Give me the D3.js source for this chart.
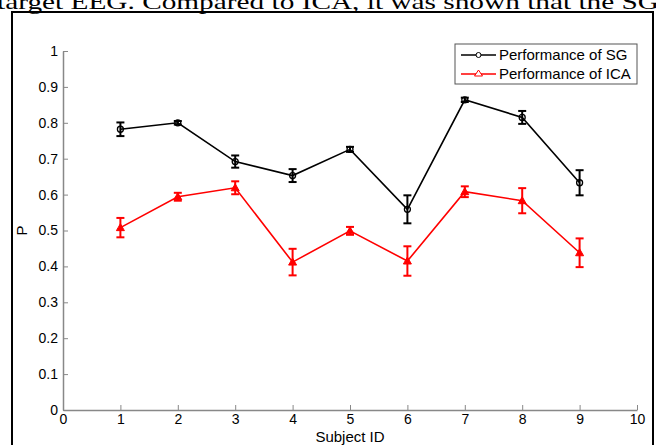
<!DOCTYPE html>
<html>
<head>
<meta charset="utf-8">
<script src="https://cdn.jsdelivr.net/npm/d3@7"></script>
<style>
  body { margin: 0; background: #fff; }
  svg { display: block; }
  .tick text { font-family: "Liberation Sans", Arial, sans-serif; font-size: 14px; fill: #000; }
</style>
</head>
<body>
<div id="chart"></div>
<script>
// values
var subjects = [1, 2, 3, 4, 5, 6, 7, 8, 9];
var sgMean  = [0.782, 0.800, 0.692, 0.653, 0.726, 0.559, 0.864, 0.815, 0.633];
var sgErr   = [0.019, 0.005, 0.017, 0.018, 0.007, 0.039, 0.006, 0.018, 0.035];
var icaMean = [0.508, 0.594, 0.619, 0.412, 0.499, 0.415, 0.608, 0.583, 0.438];
var icaErr  = [0.027, 0.011, 0.018, 0.037, 0.011, 0.041, 0.015, 0.035, 0.040];
var xTicks = [0, 1, 2, 3, 4, 5, 6, 7, 8, 9, 10];
var yTicks = [0, 0.1, 0.2, 0.3, 0.4, 0.5, 0.6, 0.7, 0.8, 0.9, 1];
var seriesNames = ["Performance of SG", "Performance of ICA"];

var W = 656, H = 445;
var svg = d3.select("#chart").append("svg").attr("width", W).attr("height", H);

// clipped line of paper text above the figure
svg.append("text")
  .attr("x", -3).attr("y", 9)
  .attr("textLength", 662).attr("lengthAdjust", "spacingAndGlyphs")
  .style("font-family", "'Liberation Serif', 'Times New Roman', serif")
  .style("font-size", "22px")
  .text("target EEG. Compared to ICA, it was shown that the SG");

// figure frame
svg.append("rect")
  .attr("x", 12).attr("y", 12).attr("width", 641).attr("height", 450)
  .attr("fill", "none").attr("stroke", "#000").attr("stroke-width", 2);

var x = d3.scaleLinear().domain([0, 10]).range([63, 637]);
var y = d3.scaleLinear().domain([0, 1]).range([410, 51]);

var xAxis = svg.append("g")
  .attr("transform", "translate(0," + y(0) + ")")
  .call(d3.axisBottom(x).tickValues(xTicks).tickSizeInner(-5).tickSizeOuter(0).tickPadding(4).tickFormat(d3.format("d")));
var yAxis = svg.append("g")
  .attr("transform", "translate(" + x(0) + ",0)")
  .call(d3.axisLeft(y).tickValues(yTicks).tickSizeInner(-5).tickSizeOuter(0).tickPadding(5).tickFormat(d3.format("")));
[xAxis, yAxis].forEach(function(g) {
  g.select(".domain").attr("stroke", "#888").attr("stroke-width", 1.5);
  g.selectAll(".tick line").attr("stroke", "#888");
});

svg.append("text")
  .attr("x", (x(0) + x(10)) / 2).attr("y", 442)
  .attr("text-anchor", "middle")
  .style("font-family", "'Liberation Sans', Arial, sans-serif").style("font-size", "15px")
  .text("Subject ID");
svg.append("text")
  .attr("transform", "translate(27," + y(0.5) + ") rotate(-90)")
  .attr("text-anchor", "middle")
  .style("font-family", "'Liberation Sans', Arial, sans-serif").style("font-size", "15px")
  .text("P");

function drawSeries(means, errs, color, marker) {
  var pts = subjects.map(function(s, i) { return { x: s, m: means[i], e: errs[i] }; });
  var g = svg.append("g");
  g.append("path")
    .datum(pts)
    .attr("fill", "none").attr("stroke", color).attr("stroke-width", 1.6)
    .attr("d", d3.line().x(function(d) { return x(d.x); }).y(function(d) { return y(d.m); }));
  var eb = g.selectAll(".eb").data(pts).enter().append("g").attr("stroke", color).attr("stroke-width", 2);
  eb.append("line")
    .attr("x1", function(d) { return x(d.x); }).attr("x2", function(d) { return x(d.x); })
    .attr("y1", function(d) { return y(d.m - d.e); }).attr("y2", function(d) { return y(d.m + d.e); });
  eb.append("line")
    .attr("x1", function(d) { return x(d.x) - 4; }).attr("x2", function(d) { return x(d.x) + 4; })
    .attr("y1", function(d) { return y(d.m - d.e); }).attr("y2", function(d) { return y(d.m - d.e); });
  eb.append("line")
    .attr("x1", function(d) { return x(d.x) - 4; }).attr("x2", function(d) { return x(d.x) + 4; })
    .attr("y1", function(d) { return y(d.m + d.e); }).attr("y2", function(d) { return y(d.m + d.e); });
  if (marker === "circle") {
    g.selectAll(".mk").data(pts).enter().append("circle")
      .attr("cx", function(d) { return x(d.x); }).attr("cy", function(d) { return y(d.m); })
      .attr("r", 3).attr("fill", "none").attr("stroke", color).attr("stroke-width", 1.3);
  } else {
    g.selectAll(".mk").data(pts).enter().append("path")
      .attr("transform", function(d) { return "translate(" + x(d.x) + "," + y(d.m) + ")"; })
      .attr("d", "M0,-4L4,3L-4,3Z")
      .attr("fill", color).attr("stroke", color).attr("stroke-width", 1);
  }
}
drawSeries(sgMean, sgErr, "#000", "circle");
drawSeries(icaMean, icaErr, "#f00", "triangle");

// legend
var lg = svg.append("g");
lg.append("rect").attr("x", 455).attr("y", 44).attr("width", 182).attr("height", 40)
  .attr("fill", "#fff").attr("stroke", "#555").attr("stroke-width", 1);
var colors = ["#000", "#f00"];
seriesNames.forEach(function(name, i) {
  var yy = 55 + i * 19;
  lg.append("line").attr("x1", 461).attr("x2", 496).attr("y1", yy).attr("y2", yy)
    .attr("stroke", colors[i]).attr("stroke-width", 1.3);
  if (i === 0) {
    lg.append("circle").attr("cx", 478.5).attr("cy", yy).attr("r", 2.5)
      .attr("fill", "#fff").attr("stroke", colors[i]).attr("stroke-width", 1);
  } else {
    lg.append("path").attr("transform", "translate(478.5," + yy + ")").attr("d", "M0,-4L4,2L-4,2Z")
      .attr("fill", "#fff").attr("stroke", colors[i]).attr("stroke-width", 1);
  }
  lg.append("text").attr("x", 499).attr("y", yy + 5)
    .style("font-family", "'Liberation Sans', Arial, sans-serif").style("font-size", "15px")
    .text(name);
});
</script>
</body>
</html>
